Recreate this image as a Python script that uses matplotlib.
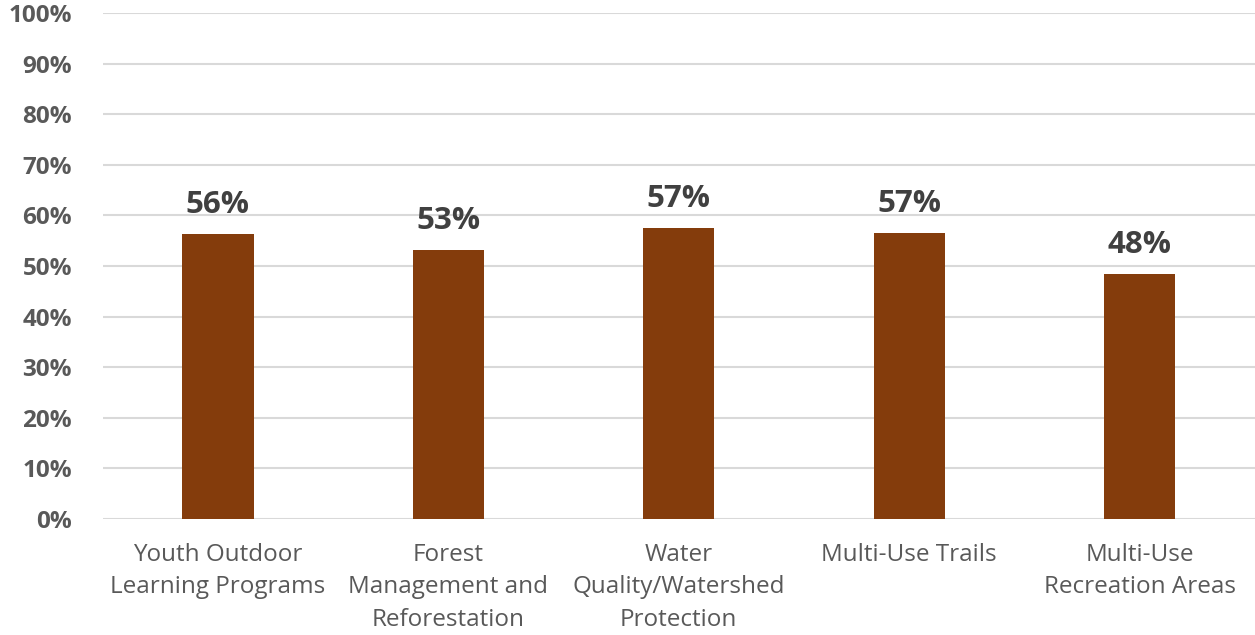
import numpy as np
import matplotlib.pyplot as plt
from matplotlib.ticker import PercentFormatter

categories = ["Youth Outdoor\nLearning Programs",
              "Forest\nManagement and\nReforestation",
              "Water\nQuality/Watershed\nProtection",
              "Multi-Use Trails",
              "Multi-Use\nRecreation Areas"]
values = [0.563, 0.532, 0.575, 0.565, 0.484]
labels = ["56%", "53%", "57%", "57%", "48%"]
yticks = np.arange(0, 1.01, 0.1)

plt.rcParams['font.family'] = ['Open Sans', 'DejaVu Sans']

fig = plt.figure(figsize=(12.55, 6.35), dpi=100)
ax = fig.add_axes([0.0817, 0.1827, 0.9183, 0.7968])

x = np.arange(len(categories))
bars = ax.bar(x, values, width=0.31, color='#843C0C', zorder=3)

# value labels above the bars
for b, lab in zip(bars, labels):
    ax.annotate(lab, (b.get_x() + b.get_width() / 2, b.get_height()),
                xytext=(0, 10), textcoords='offset points',
                ha='center', va='bottom', fontsize=22.5, fontweight='bold',
                color='#404040')

ax.set_xlim(-0.5, len(categories) - 0.5)
ax.set_ylim(0, 1.0)
ax.set_yticks(yticks)
ax.yaxis.set_major_formatter(PercentFormatter(1.0, decimals=0))
ax.set_xticks(x)
ax.set_xticklabels(categories, fontsize=17.5, color='#595959', linespacing=1.49)
for t in ax.get_yticklabels():
    t.set_fontsize(17.5)
    t.set_fontweight('bold')
    t.set_color('#595959')

ax.grid(axis='y', color='#D9D9D9', linewidth=1.5, zorder=0)
for s in ax.spines.values():
    s.set_visible(False)
ax.tick_params(axis='both', length=0)
ax.tick_params(axis='x', pad=17)
ax.tick_params(axis='y', pad=22)

fig.savefig('out.png', dpi=100)
